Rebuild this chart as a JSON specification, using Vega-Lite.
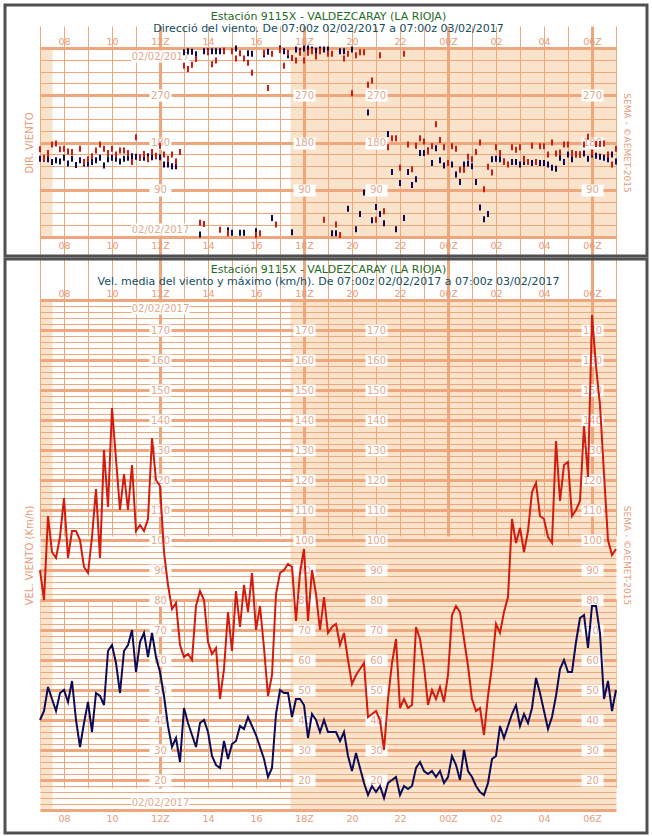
{
  "$schema": "https://vega.github.io/schema/vega-lite/v6.json",
  "background": "white",
  "width": 652,
  "height": 836,
  "autosize": {"type": "none"},
  "padding": 0,
  "config": {
    "font": "DejaVu Sans",
    "view": {"fill": "white", "stroke": null},
    "axis": {"labelFont": "DejaVu Sans", "titleFont": "DejaVu Sans", "labelFontSize": 10, "labelColor": "#e59c78", "titleColor": "#e59c78", "titleFontWeight": "normal", "titleFontSize": 10, "domain": false, "ticks": false, "tickSize": 0, "grid": false, "labelOverlap": false, "labelFlush": false, "labelBound": false}
  },
  "resolve": {"scale": {"x": "independent", "y": "independent"}, "axis": {"x": "independent", "y": "independent"}},
  "datasets": {
    "obs": [
      {"t":"2017-02-02 07:00","vx":90,"vm":40,"dx":167,"dm":149},
      {"t":"2017-02-02 07:10","vx":80,"vm":43,"dx":151,"dm":149},
      {"t":"2017-02-02 07:20","vx":108,"vm":51,"dx":160,"dm":148},
      {"t":"2017-02-02 07:30","vx":96,"vm":47,"dx":176,"dm":143},
      {"t":"2017-02-02 07:40","vx":94,"vm":43,"dx":178,"dm":146},
      {"t":"2017-02-02 07:50","vx":101,"vm":49,"dx":167,"dm":144},
      {"t":"2017-02-02 08:00","vx":114,"vm":50,"dx":168,"dm":151},
      {"t":"2017-02-02 08:10","vx":94,"vm":46,"dx":163,"dm":140},
      {"t":"2017-02-02 08:20","vx":103,"vm":53,"dx":162,"dm":149},
      {"t":"2017-02-02 08:30","vx":103,"vm":40,"dm":137},
      {"t":"2017-02-02 08:40","vx":100,"vm":31,"dx":168,"dm":146},
      {"t":"2017-02-02 08:50","vx":91,"vm":39,"dx":143,"dm":140},
      {"t":"2017-02-02 09:00","vx":89,"vm":46,"dx":148,"dm":140},
      {"t":"2017-02-02 09:10","vx":101,"vm":36,"dx":154,"dm":143},
      {"t":"2017-02-02 09:20","vx":117,"vm":49,"dx":165,"dm":146},
      {"t":"2017-02-02 09:30","vx":94,"vm":48,"dx":176,"dm":151},
      {"t":"2017-02-02 09:40","vx":130,"vm":45,"dx":168,"dm":136},
      {"t":"2017-02-02 09:50","vx":111,"vm":63,"dx":160,"dm":148},
      {"t":"2017-02-02 10:00","vx":144,"vm":65,"dx":168,"dm":151},
      {"t":"2017-02-02 10:10","vx":127,"vm":59,"dx":157,"dm":149},
      {"t":"2017-02-02 10:20","vx":110,"vm":49,"dx":165,"dm":144},
      {"t":"2017-02-02 10:30","vx":122,"vm":63,"dx":165,"dm":149},
      {"t":"2017-02-02 10:40","vx":110,"vm":65,"dx":160,"dm":151},
      {"t":"2017-02-02 10:50","vx":125,"vm":70,"dx":143,"dm":154},
      {"t":"2017-02-02 11:00","vx":103,"vm":56,"dx":190,"dm":153},
      {"t":"2017-02-02 11:10","vx":105,"vm":66,"dx":152,"dm":151},
      {"t":"2017-02-02 11:20","vx":103,"vm":69,"dx":158,"dm":151},
      {"t":"2017-02-02 11:30","vx":107,"vm":61,"dx":148,"dm":154},
      {"t":"2017-02-02 11:40","vx":134,"vm":69,"dx":162,"dm":152},
      {"t":"2017-02-02 11:50","vx":120,"vm":61,"dx":155,"dm":154},
      {"t":"2017-02-02 12:00","vx":118,"vm":56,"dx":174,"dm":152},
      {"t":"2017-02-02 12:10","vx":96,"vm":48,"dx":157,"dm":138},
      {"t":"2017-02-02 12:20","vx":85,"vm":38,"dx":149,"dm":138},
      {"t":"2017-02-02 12:30","vx":77,"vm":31,"dx":157,"dm":135},
      {"t":"2017-02-02 12:40","vx":79,"vm":34,"dx":144,"dm":135},
      {"t":"2017-02-02 12:50","vx":65,"vm":26,"dx":162},
      {"t":"2017-02-02 13:00","vx":61,"vm":44,"dx":326,"dm":352},
      {"t":"2017-02-02 13:10","vx":62,"vm":39,"dx":320,"dm":354},
      {"t":"2017-02-02 13:20","vx":60,"vm":35,"dx":328,"dm":353},
      {"t":"2017-02-02 13:30","vx":78,"vm":31,"dx":339,"dm":348},
      {"t":"2017-02-02 13:40","vx":83,"vm":39,"dx":27,"dm":5},
      {"t":"2017-02-02 13:50","vx":80,"vm":40,"dx":25,"dm":354},
      {"t":"2017-02-02 14:00","vx":66,"vm":36,"dx":352,"dm":354},
      {"t":"2017-02-02 14:10","vx":62,"vm":28,"dx":329,"dm":354},
      {"t":"2017-02-02 14:20","vx":64,"vm":25,"dx":336,"dm":354},
      {"t":"2017-02-02 14:30","vx":47,"vm":24,"dx":14,"dm":354},
      {"t":"2017-02-02 14:40","vx":57,"vm":33,"dx":354,"dm":355},
      {"t":"2017-02-02 14:50","vx":76,"vm":27,"dx":7,"dm":13},
      {"t":"2017-02-02 15:00","vx":63,"vm":32,"dx":354,"dm":8},
      {"t":"2017-02-02 15:10","vx":83,"vm":33,"dx":340,"dm":359},
      {"t":"2017-02-02 15:20","vx":71,"vm":38,"dx":350,"dm":8},
      {"t":"2017-02-02 15:30","vx":85,"vm":37,"dx":340,"dm":8},
      {"t":"2017-02-02 15:40","vx":76,"vm":41,"dx":332,"dm":350},
      {"t":"2017-02-02 15:50","vx":89,"vm":38,"dx":313,"dm":349},
      {"t":"2017-02-02 16:00","vx":70,"vm":35,"dx":4,"dm":11},
      {"t":"2017-02-02 16:10","vx":78,"vm":31,"dx":7},
      {"t":"2017-02-02 16:20","vx":64,"vm":27,"dx":351,"dm":348},
      {"t":"2017-02-02 16:30","vx":48,"vm":21,"dx":284,"dm":353},
      {"t":"2017-02-02 16:40","vx":55,"vm":24,"dx":349,"dm":36},
      {"t":"2017-02-02 16:50","vx":82,"vm":42,"dx":24},
      {"t":"2017-02-02 17:00","vx":89,"vm":50,"dx":356,"dm":359},
      {"t":"2017-02-02 17:10","vx":90,"vm":49,"dx":326,"dm":354},
      {"t":"2017-02-02 17:20","vx":92,"vm":49,"dx":351,"dm":346},
      {"t":"2017-02-02 17:30","vx":91,"vm":41,"dx":341,"dm":9},
      {"t":"2017-02-02 17:40","vx":73,"vm":47,"dx":336,"dm":357},
      {"t":"2017-02-02 17:50","vx":89,"vm":47,"dx":351,"dm":354},
      {"t":"2017-02-02 18:00","vx":97,"vm":45,"dx":336,"dm":359},
      {"t":"2017-02-02 18:10","vx":73,"vm":34,"dx":351,"dm":359},
      {"t":"2017-02-02 18:20","vx":90,"vm":42,"dx":354,"dm":357},
      {"t":"2017-02-02 18:30","vx":82,"vm":40,"dx":344,"dm":355},
      {"t":"2017-02-02 18:40","vx":70,"vm":36,"dx":354,"dm":357},
      {"t":"2017-02-02 18:50","vx":81,"vm":40,"dx":33,"dm":357},
      {"t":"2017-02-02 19:00","vx":69,"vm":36,"dx":349,"dm":357},
      {"t":"2017-02-02 19:10","vx":71,"vm":36,"dx":349,"dm":7},
      {"t":"2017-02-02 19:20","vx":72,"vm":36,"dx":24,"dm":7},
      {"t":"2017-02-02 19:30","vx":65,"vm":33,"dx":4,"dm":354},
      {"t":"2017-02-02 19:40","vx":69,"vm":36,"dx":340,"dm":354},
      {"t":"2017-02-02 19:50","vx":60,"vm":28,"dx":349,"dm":54},
      {"t":"2017-02-02 20:00","vx":52,"vm":23,"dx":274,"dm":357},
      {"t":"2017-02-02 20:10","vx":55,"vm":29,"dx":346,"dm":15},
      {"t":"2017-02-02 20:20","vx":57,"vm":24,"dx":352,"dm":44},
      {"t":"2017-02-02 20:30","vx":59,"vm":19,"dx":352,"dm":85},
      {"t":"2017-02-02 20:40","vx":41,"vm":15,"dx":290,"dm":237},
      {"t":"2017-02-02 20:50","vx":42,"vm":18,"dx":298,"dm":32},
      {"t":"2017-02-02 21:00","vx":43,"vm":16,"dx":33,"dm":57},
      {"t":"2017-02-02 21:10","vx":40,"vm":18,"dx":346,"dm":44},
      {"t":"2017-02-02 21:20","vx":30,"vm":14,"dx":49,"dm":26},
      {"t":"2017-02-02 21:30","vx":47,"vm":19,"dx":171,"dm":196},
      {"t":"2017-02-02 21:40","vx":59,"vm":20,"dx":188,"dm":124},
      {"t":"2017-02-02 21:50","vx":67,"vm":21,"dx":188,"dm":15},
      {"t":"2017-02-02 22:00","vx":44,"vm":15,"dx":132,"dm":103},
      {"t":"2017-02-02 22:10","vx":47,"vm":18,"dx":349,"dm":36},
      {"t":"2017-02-02 22:20","vx":44,"vm":17,"dx":176,"dm":124},
      {"t":"2017-02-02 22:30","vx":45,"vm":18,"dx":129,"dm":99},
      {"t":"2017-02-02 22:40","vx":71,"vm":24,"dx":174,"dm":110},
      {"t":"2017-02-02 22:50","vx":67,"vm":26,"dx":188,"dm":160},
      {"t":"2017-02-02 23:00","vx":58,"vm":23,"dx":182,"dm":160},
      {"t":"2017-02-02 23:10","vx":45,"vm":22,"dx":163,"dm":165},
      {"t":"2017-02-02 23:20","vx":50,"vm":23,"dx":173,"dm":141},
      {"t":"2017-02-02 23:30","vx":47,"vm":21,"dx":215,"dm":169},
      {"t":"2017-02-02 23:40","vx":51,"vm":23,"dx":185,"dm":146},
      {"t":"2017-02-02 23:50","vx":46,"vm":19,"dx":171,"dm":136},
      {"t":"2017-02-03 00:00","vx":55,"vm":21,"dx":141},
      {"t":"2017-02-03 00:10","vx":75,"vm":28,"dx":173,"dm":138},
      {"t":"2017-02-03 00:20","vx":78,"vm":25,"dx":168,"dm":119},
      {"t":"2017-02-03 00:30","vx":76,"vm":20,"dx":128,"dm":105},
      {"t":"2017-02-03 00:40","vx":67,"vm":30,"dx":128,"dm":138},
      {"t":"2017-02-03 00:50","vx":58,"vm":23,"dx":153,"dm":140},
      {"t":"2017-02-03 01:00","vx":47,"vm":21,"dx":148,"dm":135},
      {"t":"2017-02-03 01:10","vx":43,"vm":18,"dx":162,"dm":105},
      {"t":"2017-02-03 01:20","vx":44,"vm":16,"dx":180,"dm":56},
      {"t":"2017-02-03 01:30","vx":35,"vm":15,"dx":91,"dm":34},
      {"t":"2017-02-03 01:40","vx":48,"vm":19,"dx":134,"dm":44},
      {"t":"2017-02-03 01:50","vx":58,"vm":27,"dx":123,"dm":148},
      {"t":"2017-02-03 02:00","vx":72,"vm":28,"dx":171,"dm":149},
      {"t":"2017-02-03 02:10","vx":69,"vm":38,"dx":160,"dm":148},
      {"t":"2017-02-03 02:20","vx":76,"vm":34,"dx":143,"dm":144},
      {"t":"2017-02-03 02:30","vx":81,"vm":38,"dx":138},
      {"t":"2017-02-03 02:40","vx":107,"vm":42,"dx":171,"dm":143},
      {"t":"2017-02-03 02:50","vx":99,"vm":45,"dx":166,"dm":143},
      {"t":"2017-02-03 03:00","vx":104,"vm":38,"dx":171,"dm":138},
      {"t":"2017-02-03 03:10","vx":96,"vm":42,"dx":149,"dm":143},
      {"t":"2017-02-03 03:20","vx":103,"vm":39,"dx":143,"dm":143},
      {"t":"2017-02-03 03:30","vx":116,"vm":44,"dx":174,"dm":141},
      {"t":"2017-02-03 03:40","vx":119,"vm":54,"dx":143,"dm":143},
      {"t":"2017-02-03 03:50","vx":108,"vm":49,"dx":173,"dm":141},
      {"t":"2017-02-03 04:00","vx":107,"vm":43,"dx":173,"dm":141},
      {"t":"2017-02-03 04:10","vx":101,"vm":37,"dx":157,"dm":138},
      {"t":"2017-02-03 04:20","vx":99,"vm":41,"dx":180,"dm":132},
      {"t":"2017-02-03 04:30","vx":133,"vm":48,"dx":159,"dm":130},
      {"t":"2017-02-03 04:40","vx":113,"vm":57,"dx":161,"dm":151},
      {"t":"2017-02-03 04:50","vx":125,"vm":60,"dx":176,"dm":143},
      {"t":"2017-02-03 05:00","vx":126,"vm":56,"dx":176,"dm":157},
      {"t":"2017-02-03 05:10","vx":108,"vm":56,"dx":160,"dm":148},
      {"t":"2017-02-03 05:20","vx":110,"vm":66,"dx":158,"dm":157},
      {"t":"2017-02-03 05:30","vx":113,"vm":74,"dx":157,"dm":157},
      {"t":"2017-02-03 05:40","vx":138,"vm":75,"dx":176,"dm":159},
      {"t":"2017-02-03 05:50","vx":121,"vm":64,"dx":191,"dm":149},
      {"t":"2017-02-03 06:00","vx":175,"vm":78,"dx":161,"dm":157},
      {"t":"2017-02-03 06:10","vx":158,"vm":78,"dx":177,"dm":155},
      {"t":"2017-02-03 06:20","vx":145,"vm":69,"dx":177,"dm":153},
      {"t":"2017-02-03 06:30","vx":122,"vm":47,"dx":178,"dm":151},
      {"t":"2017-02-03 06:40","vx":100,"vm":53,"dx":157,"dm":148},
      {"t":"2017-02-03 06:50","vx":95,"vm":43,"dx":138,"dm":157},
      {"t":"2017-02-03 07:00","vx":97,"vm":50,"dx":168,"dm":144}
    ]
  },
  "data": {"name": "obs"},
  "layer": [
    {
      "mark": {"type": "tick", "orient": "vertical", "color": "#0b0b55", "thickness": 2, "size": 6, "opacity": 1},
      "encoding": {
        "x": {"field": "t", "type": "temporal",
          "scale": {"domain": [{"year": 2017, "month": 2, "date": 2, "hours": 7}, {"year": 2017, "month": 2, "date": 3, "hours": 7}], "range": [40, 616], "nice": false},
          "axis": {"orient": "top", "offset": -48, "values": [{"year": 2017, "month": 2, "date": 2, "hours": 7, "minutes": 15}, {"year": 2017, "month": 2, "date": 3, "hours": 0, "minutes": 12}], "grid": true, "gridColor": "#fae3cb", "gridOpacity": 1, "gridWidth": {"condition": {"test": "hours(datum.value) == 7", "value": 12}, "value": 326}, "labels": false, "title": "Estación 9115X - VALDEZCARAY (LA RIOJA)", "titleColor": "#1f6b24", "titleFontSize": 11, "titleY": -29, "titleBaseline": "alphabetic"}},
        "y": {"field": "dm", "type": "quantitative",
          "scale": {"domain": [0, 360], "range": [237, 48], "nice": false, "zero": false},
          "axis": {"orient": "left", "offset": -40, "values": [0, 22.5, 45, 67.5, 90, 112.5, 135, 157.5, 180, 202.5, 225, 247.5, 270, 292.5, 315, 337.5, 360], "grid": true, "gridColor": "#eea67c", "gridOpacity": 1, "gridWidth": {"condition": {"test": "datum.value % 90 == 0", "value": 3}, "value": 1}, "labels": false, "title": "DIR. VIENTO", "titlePadding": 6}}
      }
    },
    {
      "mark": {"type": "tick", "orient": "vertical", "color": "#d01b0f", "thickness": 2, "size": 6, "opacity": 1},
      "encoding": {
        "x": {"field": "t", "type": "temporal",
          "scale": {"domain": [{"year": 2017, "month": 2, "date": 2, "hours": 7}, {"year": 2017, "month": 2, "date": 3, "hours": 7}], "range": [40, 616], "nice": false},
          "axis": {"orient": "bottom", "offset": -599, "values": [{"year":2017,"month":2,"date":2,"hours":7},{"year":2017,"month":2,"date":2,"hours":8},{"year":2017,"month":2,"date":2,"hours":9},{"year":2017,"month":2,"date":2,"hours":10},{"year":2017,"month":2,"date":2,"hours":11},{"year":2017,"month":2,"date":2,"hours":12},{"year":2017,"month":2,"date":2,"hours":13},{"year":2017,"month":2,"date":2,"hours":14},{"year":2017,"month":2,"date":2,"hours":15},{"year":2017,"month":2,"date":2,"hours":16},{"year":2017,"month":2,"date":2,"hours":17},{"year":2017,"month":2,"date":2,"hours":18},{"year":2017,"month":2,"date":2,"hours":19},{"year":2017,"month":2,"date":2,"hours":20},{"year":2017,"month":2,"date":2,"hours":21},{"year":2017,"month":2,"date":2,"hours":22},{"year":2017,"month":2,"date":2,"hours":23},{"year":2017,"month":2,"date":3,"hours":0},{"year":2017,"month":2,"date":3,"hours":1},{"year":2017,"month":2,"date":3,"hours":2},{"year":2017,"month":2,"date":3,"hours":3},{"year":2017,"month":2,"date":3,"hours":4},{"year":2017,"month":2,"date":3,"hours":5},{"year":2017,"month":2,"date":3,"hours":6},{"year":2017,"month":2,"date":3,"hours":7}], "grid": true, "gridColor": "#eea67c", "gridOpacity": 1, "gridWidth": {"condition": {"test": "hours(datum.value) % 6 == 0", "value": 3}, "value": 1}, "labelExpr": "hours(datum.value) % 2 == 0 ? timeFormat(datum.value, '%H') + (hours(datum.value) % 6 == 0 ? 'Z' : '') : ''", "labelPadding": 3, "labelFontSize": 9.5, "title": null}},
        "y": {"field": "dx", "type": "quantitative",
          "scale": {"domain": [0, 360], "range": [237, 48], "nice": false, "zero": false},
          "axis": {"orient": "right", "offset": -36, "labels": false, "title": "SEMA - ©AEMET-2015", "titleFontSize": 9, "titlePadding": 5}}
      }
    },
    {
      "mark": {"type": "tick", "opacity": 0},
      "encoding": {
        "x": {"field": "t", "type": "temporal",
          "scale": {"domain": [{"year": 2017, "month": 2, "date": 2, "hours": 7}, {"year": 2017, "month": 2, "date": 3, "hours": 7}], "range": [40, 616], "nice": false},
          "axis": {"orient": "top", "offset": -48, "values": [{"year":2017,"month":2,"date":2,"hours":8},{"year":2017,"month":2,"date":2,"hours":10},{"year":2017,"month":2,"date":2,"hours":12},{"year":2017,"month":2,"date":2,"hours":14},{"year":2017,"month":2,"date":2,"hours":16},{"year":2017,"month":2,"date":2,"hours":18},{"year":2017,"month":2,"date":2,"hours":20},{"year":2017,"month":2,"date":2,"hours":22},{"year":2017,"month":2,"date":3,"hours":0},{"year":2017,"month":2,"date":3,"hours":2},{"year":2017,"month":2,"date":3,"hours":4},{"year":2017,"month":2,"date":3,"hours":6}], "labelExpr": "timeFormat(datum.value, '%H') + (hours(datum.value) % 6 == 0 ? 'Z' : '')", "labelPadding": 2, "labelFontSize": 9.5, "title": "Direcció del viento. De 07:00z 02/02/2017 a 07:00z 03/02/2017", "titleColor": "#134d5e", "titleFontSize": 11, "titleY": -17, "titleBaseline": "alphabetic"}},
        "y": {"field": "dm", "type": "quantitative",
          "scale": {"domain": [0, 360], "range": [237, 48], "nice": false, "zero": false},
          "axis": {"orient": "left", "offset": -171, "values": [90, 180, 270], "ticks": true, "tickSize": 22, "tickWidth": 12, "tickColor": "white", "labelAlign": "center", "labelBaseline": "middle", "labelPadding": -11, "labelColor": "#e4a98c", "title": null}}
      }
    },
    {
      "mark": {"type": "tick", "opacity": 0},
      "encoding": {
        "x": {"field": "t", "type": "temporal",
          "scale": {"domain": [{"year": 2017, "month": 2, "date": 2, "hours": 7}, {"year": 2017, "month": 2, "date": 3, "hours": 7}], "range": [40, 616], "nice": false},
          "axis": {"orient": "bottom", "offset": -786, "values": [{"year": 2017, "month": 2, "date": 2, "hours": 12}], "labelExpr": "'02/02/2017'", "ticks": true, "tickSize": 12, "tickWidth": 58, "tickColor": "white", "labelBaseline": "middle", "labelPadding": -6, "labelColor": "#e4a98c", "title": null}},
        "y": {"field": "dm", "type": "quantitative",
          "scale": {"domain": [0, 360], "range": [237, 48], "nice": false, "zero": false},
          "axis": {"orient": "left", "offset": -315, "values": [90, 180, 270], "ticks": true, "tickSize": 22, "tickWidth": 12, "tickColor": "white", "labelAlign": "center", "labelBaseline": "middle", "labelPadding": -11, "labelColor": "#e4a98c", "title": null}}
      }
    },
    {
      "mark": {"type": "tick", "opacity": 0},
      "encoding": {
        "x": {"field": "t", "type": "temporal",
          "scale": {"domain": [{"year": 2017, "month": 2, "date": 2, "hours": 7}, {"year": 2017, "month": 2, "date": 3, "hours": 7}], "range": [40, 616], "nice": false},
          "axis": {"orient": "top", "offset": -235, "values": [{"year": 2017, "month": 2, "date": 2, "hours": 12}], "labelExpr": "'02/02/2017'", "ticks": true, "tickSize": 12, "tickWidth": 58, "tickColor": "white", "labelBaseline": "middle", "labelPadding": -6, "labelColor": "#e4a98c", "title": null}},
        "y": {"field": "dm", "type": "quantitative",
          "scale": {"domain": [0, 360], "range": [237, 48], "nice": false, "zero": false},
          "axis": {"orient": "left", "offset": -387, "values": [90, 180, 270], "ticks": true, "tickSize": 22, "tickWidth": 12, "tickColor": "white", "labelAlign": "center", "labelBaseline": "middle", "labelPadding": -11, "labelColor": "#e4a98c", "title": null}}
      }
    },
    {
      "mark": {"type": "tick", "opacity": 0},
      "encoding": {
        "x": {"field": "t", "type": "temporal",
          "scale": {"domain": [{"year": 2017, "month": 2, "date": 2, "hours": 7}, {"year": 2017, "month": 2, "date": 3, "hours": 7}], "range": [40, 616], "nice": false},
          "axis": null},
        "y": {"field": "dm", "type": "quantitative",
          "scale": {"domain": [0, 360], "range": [237, 48], "nice": false, "zero": false},
          "axis": {"orient": "left", "offset": -603, "values": [90, 180, 270], "ticks": true, "tickSize": 22, "tickWidth": 12, "tickColor": "white", "labelAlign": "center", "labelBaseline": "middle", "labelPadding": -11, "labelColor": "#e4a98c", "title": null}}
      }
    },
    {
      "mark": {"type": "line", "color": "#0b0b55", "strokeWidth": 2},
      "encoding": {
        "x": {"field": "t", "type": "temporal",
          "scale": {"domain": [{"year": 2017, "month": 2, "date": 2, "hours": 7}, {"year": 2017, "month": 2, "date": 3, "hours": 7}], "range": [40, 616], "nice": false},
          "axis": {"orient": "top", "offset": -300, "values": [{"year": 2017, "month": 2, "date": 2, "hours": 7, "minutes": 15}, {"year": 2017, "month": 2, "date": 3, "hours": 0, "minutes": 12}], "grid": true, "gridColor": "#fae3cb", "gridOpacity": 1, "gridWidth": {"condition": {"test": "hours(datum.value) == 7", "value": 12}, "value": 326}, "labels": false, "title": "Estación 9115X - VALDEZCARAY (LA RIOJA)", "titleColor": "#1f6b24", "titleFontSize": 11, "titleY": -28, "titleBaseline": "alphabetic"}},
        "y": {"field": "vm", "type": "quantitative",
          "scale": {"domain": [10, 180], "range": [810, 300], "nice": false, "zero": false},
          "axis": {"orient": "left", "offset": -40, "values": [10,12,14,16,18,20,22,24,26,28,30,32,34,36,38,40,42,44,46,48,50,52,54,56,58,60,62,64,66,68,70,72,74,76,78,80,82,84,86,88,90,92,94,96,98,100,102,104,106,108,110,112,114,116,118,120,122,124,126,128,130,132,134,136,138,140,142,144,146,148,150,152,154,156,158,160,162,164,166,168,170,172,174,176,178,180], "grid": true, "gridColor": "#eea67c", "gridOpacity": 1, "gridWidth": {"condition": {"test": "datum.value % 10 == 0", "value": 3}, "value": 1}, "labels": false, "title": "VEL. VIENTO (Km/h)", "titlePadding": 6}}
      }
    },
    {
      "mark": {"type": "line", "color": "#d01b0f", "strokeWidth": 2},
      "encoding": {
        "x": {"field": "t", "type": "temporal",
          "scale": {"domain": [{"year": 2017, "month": 2, "date": 2, "hours": 7}, {"year": 2017, "month": 2, "date": 3, "hours": 7}], "range": [40, 616], "nice": false},
          "axis": {"orient": "bottom", "offset": -26, "values": [{"year":2017,"month":2,"date":2,"hours":7},{"year":2017,"month":2,"date":2,"hours":8},{"year":2017,"month":2,"date":2,"hours":9},{"year":2017,"month":2,"date":2,"hours":10},{"year":2017,"month":2,"date":2,"hours":11},{"year":2017,"month":2,"date":2,"hours":12},{"year":2017,"month":2,"date":2,"hours":13},{"year":2017,"month":2,"date":2,"hours":14},{"year":2017,"month":2,"date":2,"hours":15},{"year":2017,"month":2,"date":2,"hours":16},{"year":2017,"month":2,"date":2,"hours":17},{"year":2017,"month":2,"date":2,"hours":18},{"year":2017,"month":2,"date":2,"hours":19},{"year":2017,"month":2,"date":2,"hours":20},{"year":2017,"month":2,"date":2,"hours":21},{"year":2017,"month":2,"date":2,"hours":22},{"year":2017,"month":2,"date":2,"hours":23},{"year":2017,"month":2,"date":3,"hours":0},{"year":2017,"month":2,"date":3,"hours":1},{"year":2017,"month":2,"date":3,"hours":2},{"year":2017,"month":2,"date":3,"hours":3},{"year":2017,"month":2,"date":3,"hours":4},{"year":2017,"month":2,"date":3,"hours":5},{"year":2017,"month":2,"date":3,"hours":6},{"year":2017,"month":2,"date":3,"hours":7}], "grid": true, "gridColor": "#eea67c", "gridOpacity": 1, "gridWidth": {"condition": {"test": "hours(datum.value) % 6 == 0", "value": 3}, "value": 1}, "labelExpr": "hours(datum.value) % 2 == 0 ? timeFormat(datum.value, '%H') + (hours(datum.value) % 6 == 0 ? 'Z' : '') : ''", "labelPadding": 3, "labelFontSize": 9.5, "title": null}},
        "y": {"field": "vx", "type": "quantitative",
          "scale": {"domain": [10, 180], "range": [810, 300], "nice": false, "zero": false},
          "axis": {"orient": "right", "offset": -36, "labels": false, "title": "SEMA - ©AEMET-2015", "titleFontSize": 9, "titlePadding": 5}}
      }
    },
    {
      "mark": {"type": "tick", "opacity": 0},
      "encoding": {
        "x": {"field": "t", "type": "temporal",
          "scale": {"domain": [{"year": 2017, "month": 2, "date": 2, "hours": 7}, {"year": 2017, "month": 2, "date": 3, "hours": 7}], "range": [40, 616], "nice": false},
          "axis": {"orient": "top", "offset": -300, "values": [{"year":2017,"month":2,"date":2,"hours":8},{"year":2017,"month":2,"date":2,"hours":10},{"year":2017,"month":2,"date":2,"hours":12},{"year":2017,"month":2,"date":2,"hours":14},{"year":2017,"month":2,"date":2,"hours":16},{"year":2017,"month":2,"date":2,"hours":18},{"year":2017,"month":2,"date":2,"hours":20},{"year":2017,"month":2,"date":2,"hours":22},{"year":2017,"month":2,"date":3,"hours":0},{"year":2017,"month":2,"date":3,"hours":2},{"year":2017,"month":2,"date":3,"hours":4},{"year":2017,"month":2,"date":3,"hours":6}], "labelExpr": "timeFormat(datum.value, '%H') + (hours(datum.value) % 6 == 0 ? 'Z' : '')", "labelPadding": 2, "labelFontSize": 9.5, "title": "Vel. media del viento y máximo (km/h). De 07:00z 02/02/2017 a 07:00z 03/02/2017", "titleColor": "#134d5e", "titleFontSize": 11, "titleY": -16, "titleBaseline": "alphabetic"}},
        "y": {"field": "vm", "type": "quantitative",
          "scale": {"domain": [10, 180], "range": [810, 300], "nice": false, "zero": false},
          "axis": {"orient": "left", "offset": -171, "values": [20,30,40,50,60,70,80,90,100,110,120,130,140,150,160,170], "ticks": true, "tickSize": 22, "tickWidth": 12, "tickColor": "white", "labelAlign": "center", "labelBaseline": "middle", "labelPadding": -11, "labelColor": "#e4a98c", "title": null}}
      }
    },
    {
      "mark": {"type": "tick", "opacity": 0},
      "encoding": {
        "x": {"field": "t", "type": "temporal",
          "scale": {"domain": [{"year": 2017, "month": 2, "date": 2, "hours": 7}, {"year": 2017, "month": 2, "date": 3, "hours": 7}], "range": [40, 616], "nice": false},
          "axis": {"orient": "bottom", "offset": -534, "values": [{"year": 2017, "month": 2, "date": 2, "hours": 12}], "labelExpr": "'02/02/2017'", "ticks": true, "tickSize": 12, "tickWidth": 58, "tickColor": "white", "labelBaseline": "middle", "labelPadding": -6, "labelColor": "#e4a98c", "title": null}},
        "y": {"field": "vm", "type": "quantitative",
          "scale": {"domain": [10, 180], "range": [810, 300], "nice": false, "zero": false},
          "axis": {"orient": "left", "offset": -315, "values": [20,30,40,50,60,70,80,90,100,110,120,130,140,150,160,170], "ticks": true, "tickSize": 22, "tickWidth": 12, "tickColor": "white", "labelAlign": "center", "labelBaseline": "middle", "labelPadding": -11, "labelColor": "#e4a98c", "title": null}}
      }
    },
    {
      "mark": {"type": "tick", "opacity": 0},
      "encoding": {
        "x": {"field": "t", "type": "temporal",
          "scale": {"domain": [{"year": 2017, "month": 2, "date": 2, "hours": 7}, {"year": 2017, "month": 2, "date": 3, "hours": 7}], "range": [40, 616], "nice": false},
          "axis": {"orient": "top", "offset": -808, "values": [{"year": 2017, "month": 2, "date": 2, "hours": 12}], "labelExpr": "'02/02/2017'", "ticks": true, "tickSize": 12, "tickWidth": 58, "tickColor": "white", "labelBaseline": "middle", "labelPadding": -6, "labelColor": "#e4a98c", "title": null}},
        "y": {"field": "vm", "type": "quantitative",
          "scale": {"domain": [10, 180], "range": [810, 300], "nice": false, "zero": false},
          "axis": {"orient": "left", "offset": -387, "values": [20,30,40,50,60,70,80,90,100,110,120,130,140,150,160,170], "ticks": true, "tickSize": 22, "tickWidth": 12, "tickColor": "white", "labelAlign": "center", "labelBaseline": "middle", "labelPadding": -11, "labelColor": "#e4a98c", "title": null}}
      }
    },
    {
      "mark": {"type": "tick", "opacity": 0},
      "encoding": {
        "x": {"field": "t", "type": "temporal",
          "scale": {"domain": [{"year": 2017, "month": 2, "date": 2, "hours": 7}, {"year": 2017, "month": 2, "date": 3, "hours": 7}], "range": [40, 616], "nice": false},
          "axis": null},
        "y": {"field": "vm", "type": "quantitative",
          "scale": {"domain": [10, 180], "range": [810, 300], "nice": false, "zero": false},
          "axis": {"orient": "left", "offset": -603, "values": [20,30,40,50,60,70,80,90,100,110,120,130,140,150,160,170], "ticks": true, "tickSize": 22, "tickWidth": 12, "tickColor": "white", "labelAlign": "center", "labelBaseline": "middle", "labelPadding": -11, "labelColor": "#e4a98c", "title": null}}
      }
    },
    {
      "data": {"values": [{}]},
      "mark": {"type": "rect", "filled": false, "color": "#505050", "strokeWidth": 3},
      "encoding": {
        "x": {"datum": 0, "type": "quantitative", "scale": {"domain": [0, 1], "range": [5, 647], "nice": false, "zero": false}, "axis": null},
        "x2": {"datum": 1},
        "y": {"datum": 0, "type": "quantitative", "scale": {"domain": [0, 1], "range": [256, 5], "nice": false, "zero": false}, "axis": null},
        "y2": {"datum": 1}
      }
    },
    {
      "data": {"values": [{}]},
      "mark": {"type": "rect", "filled": false, "color": "#505050", "strokeWidth": 3},
      "encoding": {
        "x": {"datum": 0, "type": "quantitative", "scale": {"domain": [0, 1], "range": [5, 647], "nice": false, "zero": false}, "axis": null},
        "x2": {"datum": 1},
        "y": {"datum": 0, "type": "quantitative", "scale": {"domain": [0, 1], "range": [833, 259], "nice": false, "zero": false}, "axis": null},
        "y2": {"datum": 1}
      }
    }
  ]
}
